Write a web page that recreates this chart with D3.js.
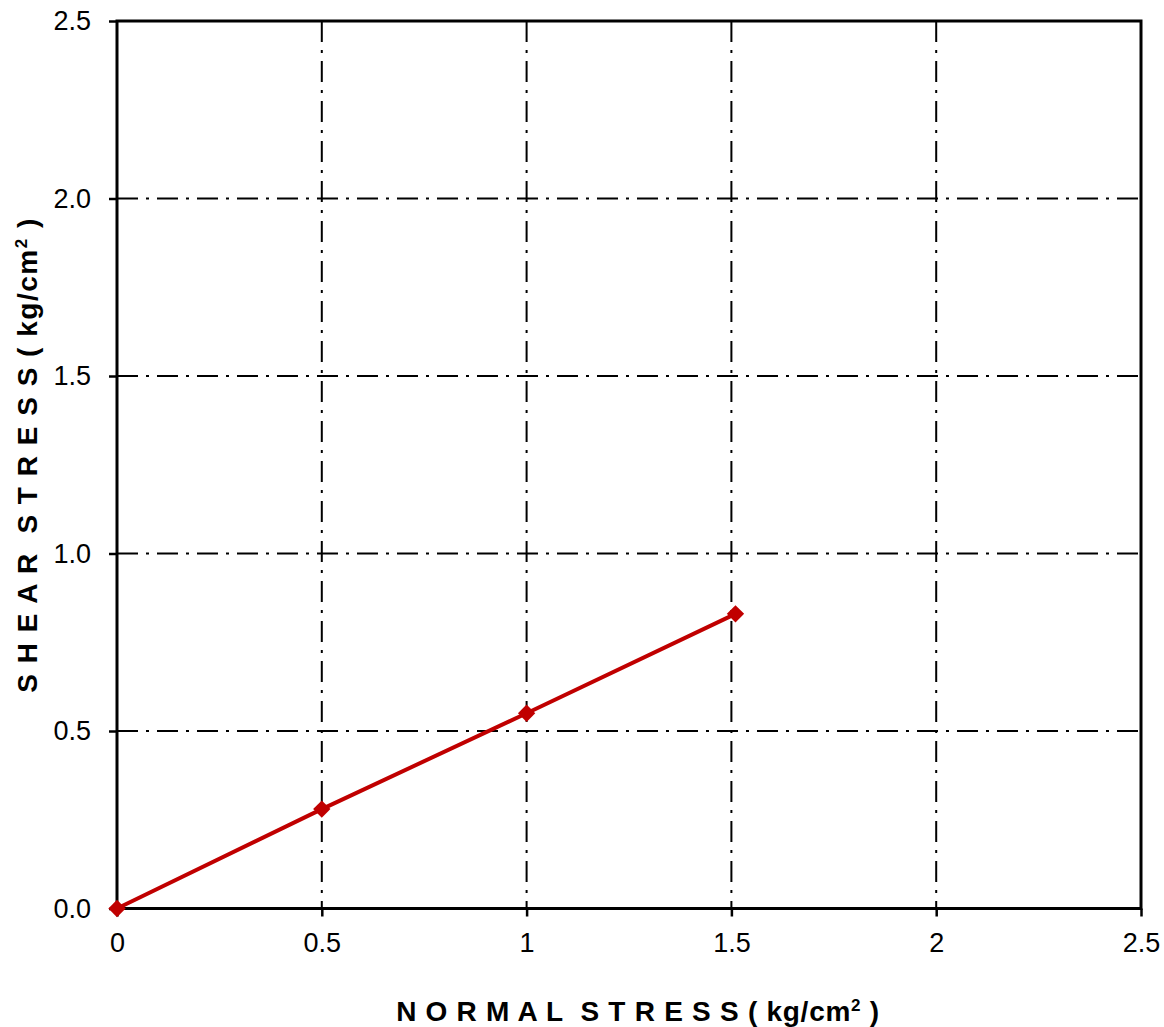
<!DOCTYPE html>
<html>
<head>
<meta charset="utf-8">
<script src="https://cdn.jsdelivr.net/npm/d3@7"></script>
<style>
  body { margin: 0; background: #fff; }
  svg { display: block; font-family: "Liberation Sans", Arial, sans-serif; }
  .tick text { font-size: 27px; fill: #000; }
  .tick line { stroke: #000; stroke-width: 2.5; }
  .title { font-size: 28px; font-weight: bold; fill: #000; white-space: pre; }
</style>
</head>
<body>
<svg id="chart" width="1164" height="1027"></svg>
<script>
// shear box test results
var normalStress = [0, 0.5, 1.0, 1.51];   // kg/cm2
var shearStress  = [0, 0.28, 0.55, 0.83]; // kg/cm2

var xTicks = [0, 0.5, 1, 1.5, 2, 2.5];
var xTickLabels = ['0', '0.5', '1', '1.5', '2', '2.5'];
var yTicks = [0, 0.5, 1.0, 1.5, 2.0, 2.5];
var yTickLabels = ['0.0', '0.5', '1.0', '1.5', '2.0', '2.5'];
var xGrid = [0.5, 1, 1.5, 2];
var yGrid = [0.5, 1.0, 1.5, 2.0];

var M = { left: 117, top: 21, right: 1141, bottom: 908.5 };

var svg = d3.select('#chart');
var x = d3.scaleLinear().domain([0, 2.5]).range([M.left, M.right]);
var y = d3.scaleLinear().domain([0, 2.5]).range([M.bottom, M.top]);

// dash-dot grid
var grid = svg.append('g')
  .attr('stroke', '#000')
  .attr('stroke-width', 2)
  .attr('stroke-dasharray', '21,8,3,8');
grid.selectAll('.vg').data(xGrid).enter().append('line')
  .attr('x1', function(d) { return x(d); })
  .attr('x2', function(d) { return x(d); })
  .attr('y1', M.top)
  .attr('y2', M.bottom);
grid.selectAll('.hg').data(yGrid).enter().append('line')
  .attr('x1', M.left)
  .attr('x2', M.right)
  .attr('y1', function(d) { return y(d); })
  .attr('y2', function(d) { return y(d); });

// frame
svg.append('rect')
  .attr('x', M.left).attr('y', M.top)
  .attr('width', M.right - M.left).attr('height', M.bottom - M.top)
  .attr('fill', 'none').attr('stroke', '#000').attr('stroke-width', 3);

// axes
var xAxis = svg.append('g')
  .attr('transform', 'translate(0,' + M.bottom + ')')
  .call(d3.axisBottom(x).tickValues(xTicks).tickSize(8).tickPadding(16)
    .tickFormat(function(d, i) { return xTickLabels[i]; }));
xAxis.select('.domain').remove();
xAxis.selectAll('text').attr('font-family', null).attr('font-size', null);

var yAxis = svg.append('g')
  .attr('transform', 'translate(' + M.left + ',0)')
  .call(d3.axisLeft(y).tickValues(yTicks).tickSize(8).tickPadding(18)
    .tickFormat(function(d, i) { return yTickLabels[i]; }));
yAxis.select('.domain').remove();
yAxis.selectAll('text').attr('font-family', null).attr('font-size', null);

// series
var pts = normalStress.map(function(d, i) { return [d, shearStress[i]]; });
svg.append('path')
  .datum(pts)
  .attr('fill', 'none')
  .attr('stroke', '#C00000')
  .attr('stroke-width', 4)
  .attr('d', d3.line()
    .x(function(d) { return x(d[0]); })
    .y(function(d) { return y(d[1]); }));
svg.selectAll('.pt').data(pts).enter().append('path')
  .attr('d', d3.symbol().type(d3.symbolSquare).size(150))
  .attr('fill', '#C00000')
  .attr('transform', function(d) {
    return 'translate(' + x(d[0]) + ',' + y(d[1]) + ') rotate(45)';
  });

// titles: stretch letter spacing so the spans match the original
function title(t, label, span) {
  t.append('tspan').text(label + ' ( kg/cm');
  t.append('tspan').attr('dy', -10).attr('font-size', 17).text('2');
  t.append('tspan').attr('dy', 10).text(' )');
  var w = t.node().getComputedTextLength();
  var n = t.text().length;
  t.attr('letter-spacing', (span - w) / (n - 1));
}
var xt = svg.append('text').attr('class', 'title')
  .attr('x', 638).attr('y', 1021).attr('text-anchor', 'middle');
title(xt, 'N O R M A L  S T R E S S', 483);

var yt = svg.append('text').attr('class', 'title')
  .attr('transform', 'translate(37,455) rotate(-90)')
  .attr('text-anchor', 'middle');
title(yt, 'S H E A R  S T R E S S', 474);
</script>
</body>
</html>
